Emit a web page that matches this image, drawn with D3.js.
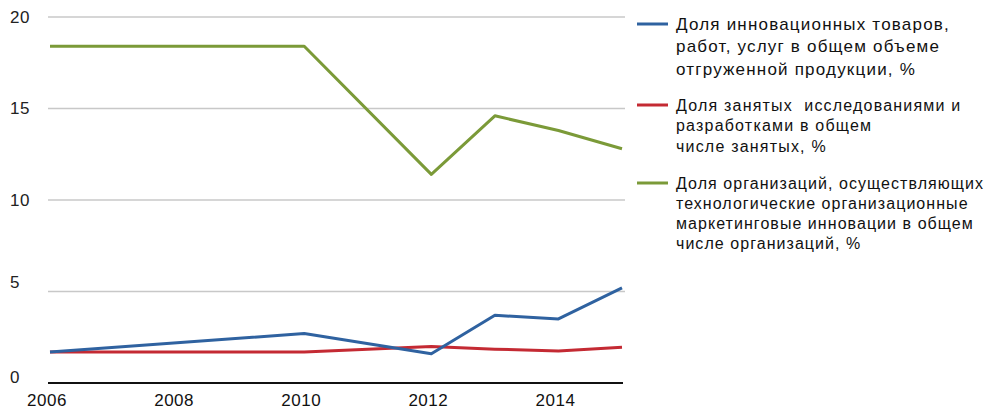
<!DOCTYPE html>
<html>
<head>
<meta charset="utf-8">
<script src="https://cdn.jsdelivr.net/npm/d3@7"></script>
<style>
  body { margin: 0; background: #fff; }
  svg { font-family: "Liberation Sans", Arial, sans-serif; }
</style>
</head>
<body>
<svg id="chart" width="987" height="412"></svg>
<script>
const width = 987;
const height = 412;

// data
const years = [2006, 2010, 2012, 2013, 2014, 2015];
const innovGoods = [1.7, 2.7, 1.6, 3.7, 3.5, 5.2];
const rdStaff = [1.7, 1.7, 2.0, 1.85, 1.75, 1.95];
const innovOrgs = [18.4, 18.4, 11.4, 14.6, 13.8, 12.8];
const yTicks = [0, 5, 10, 15, 20];
const xTicks = [2006, 2008, 2010, 2012, 2014];

const legendLabels = [
  ["Доля инновационных товаров,", "работ, услуг в общем объеме", "отгруженной продукции, %"],
  ["Доля занятых  исследованиями и", "разработками в общем", "числе занятых, %"],
  ["Доля организаций, осуществляющих", "технологические организационные", "маркетинговые инновации в общем", "числе организаций, %"]
];
const colors = ["#2f62a0", "#c42a33", "#7b9a38"];

const svg = d3.select("#chart");

const x = d3.scaleLinear().domain([2006, 2015]).range([50, 622]);
const y = d3.scaleLinear().domain([0, 20]).range([383, 17]);

// grid
svg.append("g")
  .selectAll("line")
  .data(yTicks.filter(d => d > 0))
  .join("line")
  .attr("x1", 48)
  .attr("x2", 625)
  .attr("y1", d => y(d))
  .attr("y2", d => y(d))
  .attr("stroke", "#c8c8c8")
  .attr("stroke-width", 1.5);

// y labels (the small ones sit a bit above their gridline in the original)
svg.append("g")
  .selectAll("text")
  .data(yTicks)
  .join("text")
  .attr("x", 10)
  .attr("y", d => y(d) + (d === 5 ? -9 : d === 0 ? -6 : 0))
  .attr("dy", "0.35em")
  .attr("font-size", 17)
  .attr("letter-spacing", 0.5)
  .attr("fill", "#222")
  .text(d => d);

// x axis
svg.append("line")
  .attr("x1", 48)
  .attr("x2", 623)
  .attr("y1", y(0))
  .attr("y2", y(0))
  .attr("stroke", "#111")
  .attr("stroke-width", 2);

svg.append("g")
  .selectAll("text")
  .data(xTicks)
  .join("text")
  .attr("x", d => x(d) - 3)
  .attr("y", 406)
  .attr("text-anchor", "middle")
  .attr("font-size", 17)
  .attr("letter-spacing", 0.5)
  .attr("fill", "#111")
  .text(d => d);

// lines
const series = [innovGoods, rdStaff, innovOrgs];
const line = d3.line()
  .x((d, i) => x(years[i]))
  .y(d => y(d));

// green first so the low lines stay on top
[2, 1, 0].forEach(k => {
  svg.append("path")
    .attr("d", line(series[k]))
    .attr("fill", "none")
    .attr("stroke", colors[k])
    .attr("stroke-width", 3)
    .attr("stroke-linejoin", "round");
});

// legend
const legendTop = [24, 105, 183];
const lineGap = [22.5, 20.5, 20];
const legendSize = [17, 16, 16];
const legendSpacing = [1.2, 1.2, 1.05];

legendLabels.forEach((lines, k) => {
  const g = svg.append("g");
  g.append("line")
    .attr("x1", 637)
    .attr("x2", 668)
    .attr("y1", legendTop[k])
    .attr("y2", legendTop[k])
    .attr("stroke", colors[k])
    .attr("stroke-width", 3);
  g.selectAll("text")
    .data(lines)
    .join("text")
    .attr("x", 676)
    .attr("y", (d, i) => legendTop[k] + i * lineGap[k])
    .attr("dy", "0.35em")
    .attr("font-size", legendSize[k])
    .attr("letter-spacing", legendSpacing[k])
    .style("white-space", "pre")
    .attr("fill", "#111")
    .text(d => d);
});
</script>
</body>
</html>
